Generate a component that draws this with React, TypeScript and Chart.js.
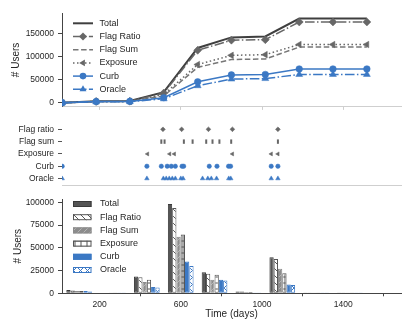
import React, { useEffect, useRef } from 'react';
import { Chart, registerables } from 'chart.js';
Chart.register(...registerables);

// ---------- data ----------
const seriesNames = ['Total', 'Flag Ratio', 'Flag Sum', 'Exposure', 'Curb', 'Oracle'];
const days = [16, 183, 349, 516, 683, 849, 1016, 1183, 1349, 1516];
const cumTotal = [0, 3500, 4000, 23000, 119000, 142000, 144000, 183000, 183000, 183000];
const cumFlagRatio = [0, 3000, 3500, 21000, 114000, 136000, 137000, 175500, 175500, 175500];
const cumFlagSum = [0, 2500, 3000, 15000, 77000, 94000, 95000, 121000, 121000, 121000];
const cumExposure = [0, 2500, 3000, 18000, 83000, 103000, 104500, 126500, 126500, 126500];
const cumCurb = [0, 2500, 3000, 11000, 45500, 60500, 61500, 73500, 73500, 73500];
const cumOracle = [0, 2000, 2500, 8500, 37000, 51500, 52500, 61500, 61500, 61500];

const eventLabels = ['Flag ratio', 'Flag sum', 'Exposure', 'Curb', 'Oracle'];
const evFlagRatio = [512, 604, 736, 854, 1078];
const evFlagSum = [504, 520, 615, 658, 725, 756, 790, 848, 1078];
const evExposure = [436, 545, 568, 854, 1045, 1078];
const evCurb = [16, 433, 504, 533, 553, 573, 606, 614, 740, 778, 835, 845, 1045, 1078];
const evOracle = [16, 433, 514, 528, 543, 558, 573, 600, 611, 707, 733, 750, 776, 836, 846, 1045, 1078];

const incTotal = [3500, 500, 18500, 98000, 23000, 2000, 39500, 300, 300];
const incFlagRatio = [3000, 500, 17500, 93700, 21400, 2000, 37700, 300, 300];
const incFlagSum = [2500, 400, 12500, 62000, 15000, 1500, 27000, 300, 300];
const incExposure = [2500, 400, 15000, 64700, 20300, 1500, 22000, 300, 300];
const incCurb = [2500, 400, 7000, 35000, 15000, 1000, 9800, 300, 300];
const incOracle = [2000, 400, 6300, 30000, 14000, 1000, 9100, 300, 300];

const xTicks = [200, 600, 1000, 1400];
const topYTicks = [0, 50000, 100000, 150000];
const botYTicks = [0, 25000, 50000, 75000, 100000];

// ---------- style ----------
const FONT = '"Liberation Sans", Arial, Helvetica, sans-serif';
const TEXT = '#262626';
const DARK = '#3f3f3f';
const GRAY = '#676767';
const GRAY2 = '#777777';
const BLUE = '#3b78c4';
const LIGHT = '#cfcfcf';
const X_MIN = 15;
const X_MAX = 1684;
const AXIS_W = 62;
const RIGHT_PAD = 14;

function hatch(kind: string, bg: string, fg: string, size: number, lw = 1) {
  const c = document.createElement('canvas');
  c.width = size;
  c.height = size;
  const g = c.getContext('2d')!;
  g.fillStyle = bg;
  g.fillRect(0, 0, size, size);
  g.strokeStyle = fg;
  g.lineWidth = lw;
  g.beginPath();
  if (kind === '\\' || kind === 'x') {
    g.moveTo(-1, -1);
    g.lineTo(size + 1, size + 1);
  }
  if (kind === '/' || kind === 'x') {
    g.moveTo(-1, size + 1);
    g.lineTo(size + 1, -1);
  }
  if (kind === '+') {
    g.moveTo(0, size / 2);
    g.lineTo(size, size / 2);
    g.moveTo(size / 2, 0);
    g.lineTo(size / 2, size);
  }
  g.stroke();
  return g.createPattern(c, 'repeat')!;
}

function drawMarker(ctx: CanvasRenderingContext2D, style: string, x: number, y: number, r: number, color: string) {
  ctx.fillStyle = color;
  ctx.strokeStyle = color;
  ctx.beginPath();
  if (style === 'circle') {
    ctx.arc(x, y, r, 0, Math.PI * 2);
  } else if (style === 'diamond') {
    ctx.moveTo(x, y - r);
    ctx.lineTo(x + r, y);
    ctx.lineTo(x, y + r);
    ctx.lineTo(x - r, y);
    ctx.closePath();
  } else if (style === 'triUp') {
    ctx.moveTo(x, y - r);
    ctx.lineTo(x + r * 0.866, y + r * 0.5);
    ctx.lineTo(x - r * 0.866, y + r * 0.5);
    ctx.closePath();
  } else if (style === 'triLeft') {
    ctx.moveTo(x - r, y);
    ctx.lineTo(x + r * 0.5, y - r * 0.866);
    ctx.lineTo(x + r * 0.5, y + r * 0.866);
    ctx.closePath();
  } else {
    return;
  }
  ctx.fill();
}

const legendPlugin = {
  id: 'customLegend',
  afterDraw(chart: any, _args: any, opts: any) {
    if (!opts || !opts.items) return;
    const ctx: CanvasRenderingContext2D = chart.ctx;
    ctx.save();
    opts.items.forEach((it: any, i: number) => {
      const y = opts.y + i * opts.step;
      if (it.kind === 'line') {
        ctx.strokeStyle = it.color;
        ctx.lineWidth = it.width;
        ctx.setLineDash(it.dash || []);
        ctx.beginPath();
        ctx.moveTo(opts.x0, y);
        ctx.lineTo(opts.x1, y);
        ctx.stroke();
        ctx.setLineDash([]);
        if (it.marker) drawMarker(ctx, it.marker, (opts.x0 + opts.x1) / 2, y, it.r, it.color);
      } else {
        const h = opts.patchH;
        ctx.fillStyle = it.fill;
        ctx.fillRect(opts.x0, y - h / 2, opts.x1 - opts.x0, h);
        ctx.strokeStyle = it.border;
        ctx.lineWidth = 1;
        ctx.strokeRect(opts.x0 + 0.5, y - h / 2 + 0.5, opts.x1 - opts.x0 - 1, h - 1);
      }
      ctx.fillStyle = TEXT;
      ctx.font = `9px ${FONT}`;
      ctx.textAlign = 'left';
      ctx.textBaseline = 'middle';
      ctx.fillText(it.label, opts.tx, y);
    });
    ctx.restore();
  },
};

const pts = (xs: number[], ys: number[]) => xs.map((x, i) => ({ x, y: ys[i] }));

export default function App() {
  const topRef = useRef<HTMLCanvasElement>(null);
  const midRef = useRef<HTMLCanvasElement>(null);
  const botRef = useRef<HTMLCanvasElement>(null);

  useEffect(() => {
    Chart.defaults.font.family = FONT;
    Chart.defaults.color = TEXT;
    const charts: Chart[] = [];

    const tickFont = { size: 8.5, family: FONT };
    const xBase = {
      type: 'linear' as const,
      min: X_MIN,
      max: X_MAX,
      afterBuildTicks: (s: any) => {
        s.ticks = xTicks.map((v) => ({ value: v }));
      },
    };

    // ---------- top: cumulative lines ----------
    const lineStyles = [
      { data: cumTotal, color: DARK, dash: [], marker: '', ps: false, r: 0, w: 2 },
      { data: cumFlagRatio, color: GRAY, dash: [9.6, 2.4, 1.5, 2.4], marker: 'diamond', ps: 'rectRot', r: 4, w: 1.5 },
      { data: cumFlagSum, color: GRAY2, dash: [5.5, 2.6], marker: '', ps: false, r: 0, w: 1.5 },
      { data: cumExposure, color: GRAY, dash: [1.5, 2.5], marker: 'triLeft', ps: 'triangle', rot: -90, r: 3.8, w: 1.5 },
      { data: cumCurb, color: BLUE, dash: [], marker: 'circle', ps: 'circle', r: 3.3, w: 1.5 },
      { data: cumOracle, color: BLUE, dash: [9.6, 2.4, 1.5, 2.4], marker: 'triUp', ps: 'triangle', r: 4, w: 1.5 },
    ];
    charts.push(
      new Chart(topRef.current!, {
        type: 'line',
        data: {
          datasets: lineStyles.map((s: any, i) => ({
            label: seriesNames[i],
            data: pts(days, s.data),
            borderColor: s.color,
            backgroundColor: s.color,
            borderWidth: s.w,
            borderDash: s.dash,
            pointStyle: s.ps,
            pointRotation: s.rot || 0,
            pointRadius: s.r,
            pointBackgroundColor: s.color,
            pointBorderColor: s.color,
            pointBorderWidth: 0.5,
            tension: 0,
            order: 5 - i,
          })),
        },
        options: {
          animation: false,
          responsive: false,
          devicePixelRatio: 1,
          layout: { padding: { left: 0, right: RIGHT_PAD, top: 13, bottom: 0 } },
          plugins: {
            legend: { display: false },
            tooltip: { enabled: false },
            customLegend: {
              x0: 73,
              x1: 93,
              tx: 99.5,
              y: 23.3,
              step: 13.2,
              items: lineStyles.map((s: any, i) => ({
                kind: 'line',
                label: seriesNames[i],
                color: s.color,
                width: s.w,
                dash: s.dash,
                marker: s.marker,
                r: s.r,
              })),
            },
          } as any,
          scales: {
            x: {
              ...xBase,
              afterFit: (s: any) => {
                s.height = 4;
              },
              ticks: { display: false },
              grid: { display: true, drawOnChartArea: false, drawTicks: true, tickLength: 3, color: LIGHT },
              border: { display: true, color: LIGHT },
            },
            y: {
              min: -9000,
              max: 195000,
              afterBuildTicks: (s: any) => {
                s.ticks = topYTicks.map((v) => ({ value: v }));
              },
              afterFit: (s: any) => {
                s.width = AXIS_W;
              },
              ticks: { font: tickFont, padding: 4, color: TEXT, callback: (v: any) => String(v) },
              grid: { drawOnChartArea: false, drawTicks: true, tickLength: 4, color: '#444' },
              border: { display: true, color: '#444' },
              title: { display: true, text: '# Users', font: { size: 10, family: FONT }, color: TEXT, padding: { top: 10, bottom: 0 } },
            },
          },
        },
        plugins: [legendPlugin],
      } as any)
    );

    // ---------- middle: events ----------
    const evSets = [
      { data: evFlagRatio, color: GRAY, ps: 'rectRot', r: 2.4, rot: 0, bw: 0.5 },
      { data: evFlagSum, color: GRAY, ps: 'line', r: 2.2, rot: 90, bw: 2 },
      { data: evExposure, color: GRAY, ps: 'triangle', r: 2.3, rot: -90, bw: 0.5 },
      { data: evCurb, color: BLUE, ps: 'circle', r: 2.2, rot: 0, bw: 0.5 },
      { data: evOracle, color: BLUE, ps: 'triangle', r: 2.6, rot: 0, bw: 0.5 },
    ];
    charts.push(
      new Chart(midRef.current!, {
        type: 'scatter',
        data: {
          datasets: evSets.map((s, k) => ({
            label: eventLabels[k],
            data: s.data.map((d) => ({ x: d, y: 4 - k })),
            pointStyle: s.ps,
            pointRotation: s.rot,
            pointRadius: s.r,
            pointBackgroundColor: s.color,
            pointBorderColor: s.color,
            pointBorderWidth: s.bw,
            showLine: false,
          })),
        },
        options: {
          animation: false,
          responsive: false,
          devicePixelRatio: 1,
          layout: { padding: { left: 0, right: RIGHT_PAD, top: 2, bottom: 0 } },
          plugins: { legend: { display: false }, tooltip: { enabled: false } },
          scales: {
            x: {
              ...xBase,
              afterFit: (s: any) => {
                s.height = 1.5;
              },
              ticks: { display: false },
              grid: { display: false },
              border: { display: true, color: LIGHT },
            },
            y: {
              type: 'linear',
              min: -0.6,
              max: 4.83,
              afterBuildTicks: (s: any) => {
                s.ticks = [0, 1, 2, 3, 4].map((v) => ({ value: v }));
              },
              afterFit: (s: any) => {
                s.width = AXIS_W;
              },
              ticks: { font: tickFont, padding: 4, color: TEXT, callback: (v: any) => eventLabels[4 - v] },
              grid: { drawOnChartArea: false, drawTicks: true, tickLength: 4, color: '#555' },
              border: { display: false },
            },
          },
        },
      } as any)
    );

    // ---------- bottom: bars ----------
    const barCenters = days.slice(0, -1).map((d, i) => (d + days[i + 1]) / 2);
    const barStyles = [
      { data: incTotal, fill: '#555555', border: '#3a3a3a' },
      { data: incFlagRatio, fill: hatch('\\', '#ffffff', '#555555', 7), border: '#555555' },
      { data: incFlagSum, fill: hatch('/', '#8c8c8c', '#b4b4b4', 6), border: '#8c8c8c' },
      { data: incExposure, fill: hatch('+', '#ffffff', '#555555', 6), border: '#555555' },
      { data: incCurb, fill: BLUE, border: BLUE },
      { data: incOracle, fill: hatch('x', '#ffffff', BLUE, 7), border: BLUE },
    ];
    charts.push(
      new Chart(botRef.current!, {
        type: 'bar',
        data: {
          datasets: barStyles.map((s, i) => ({
            label: seriesNames[i],
            data: pts(barCenters, s.data),
            backgroundColor: s.fill,
            borderColor: s.border,
            borderWidth: 1,
            borderSkipped: false,
            categoryPercentage: 0.76,
            barPercentage: 1,
          })),
        },
        options: {
          animation: false,
          responsive: false,
          devicePixelRatio: 1,
          layout: { padding: { left: 0, right: RIGHT_PAD, top: 4, bottom: 0 } },
          plugins: {
            legend: { display: false },
            tooltip: { enabled: false },
            customLegend: {
              x0: 73,
              x1: 91.5,
              tx: 100,
              y: 14,
              step: 13.2,
              patchH: 6,
              items: barStyles.map((s, i) => ({ kind: 'patch', label: seriesNames[i], fill: s.fill, border: s.border })),
            },
          } as any,
          scales: {
            x: {
              ...xBase,
              offset: false,
              afterFit: (s: any) => {
                s.height = 38.7;
              },
              ticks: { font: tickFont, padding: 3.5, color: TEXT, maxRotation: 0, callback: (v: any) => String(v) },
              grid: { display: true, drawOnChartArea: false, drawTicks: true, tickLength: 3, color: '#444' },
              border: { display: true, color: '#444' },
              title: { display: true, text: 'Time (days)', font: { size: 10, family: FONT }, color: TEXT, padding: { top: 0, bottom: 11.7 } },
            },
            y: {
              min: 0,
              max: 103500,
              afterBuildTicks: (s: any) => {
                s.ticks = botYTicks.map((v) => ({ value: v }));
              },
              afterFit: (s: any) => {
                s.width = AXIS_W;
              },
              ticks: { font: tickFont, padding: 4, color: TEXT, callback: (v: any) => String(v) },
              grid: { drawOnChartArea: false, drawTicks: true, tickLength: 4, color: '#444' },
              border: { display: true, color: '#444' },
              title: { display: true, text: '# Users', font: { size: 10, family: FONT }, color: TEXT, padding: { top: 12, bottom: 0 } },
            },
          },
        },
        plugins: [legendPlugin],
      } as any)
    );

    return () => charts.forEach((c) => c.destroy());
  }, []);

  return (
    <div style={{ position: 'fixed', left: 0, top: 0, width: 415, height: 332, background: '#ffffff' }}>
      <canvas ref={topRef} width={415} height={116} style={{ position: 'absolute', left: 0, top: 0, width: 415, height: 116 }} />
      <canvas ref={midRef} width={415} height={85} style={{ position: 'absolute', left: 0, top: 110, width: 415, height: 85 }} />
      <canvas ref={botRef} width={415} height={142} style={{ position: 'absolute', left: 0, top: 190, width: 415, height: 142 }} />
    </div>
  );
}
